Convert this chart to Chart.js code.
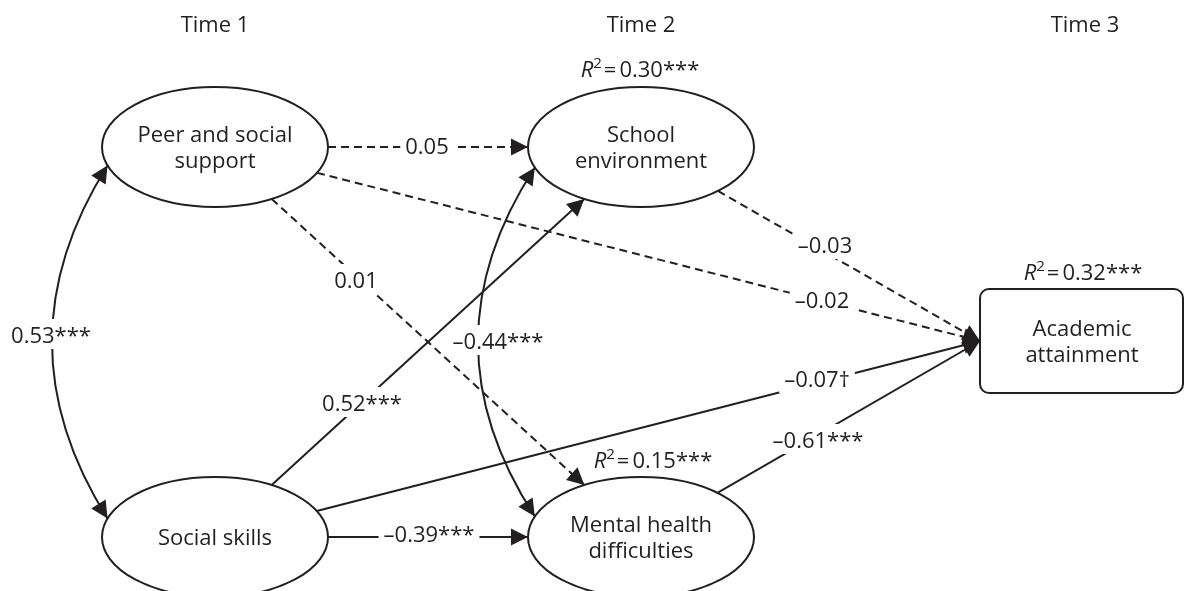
<!DOCTYPE html>
<html>
<head>
<meta charset="utf-8">
<script src="https://cdn.jsdelivr.net/npm/chart.js@4.4.0/dist/chart.umd.min.js"></script>
<style>
  html, body { margin: 0; padding: 0; background: #fff; }
  #wrap { width: 1185px; height: 591px; position: relative; }
</style>
</head>
<body>
<div id="wrap"><canvas id="pathChart"></canvas></div>
<script>
// waves and constructs
const waves = ['Time 1', 'Time 2', 'Time 3'];
const constructs = ['Peer and social support', 'Social skills', 'School environment', 'Mental health difficulties', 'Academic attainment'];

// directed paths (indices into constructs) with standardised coefficients
const pathFrom = [0, 0, 0, 1, 1, 1, 2, 3];
const pathTo   = [2, 3, 4, 2, 4, 3, 4, 4];
const pathCoef = [0.05, 0.01, -0.02, 0.52, -0.07, -0.39, -0.03, -0.61];
const pathSig  = ['', '', '', '***', '\u2020', '***', '', '***'];

// covariances (double-headed)
const corrA    = [0, 2];
const corrB    = [1, 3];
const corrCoef = [0.53, -0.44];
const corrSig  = ['***', '***'];

// explained variance
const r2Node  = [2, 3, 4];
const r2Value = [0.30, 0.15, 0.32];
const r2Sig   = ['***', '***', '***'];

// ---- layout (units = canvas px) ----
const waveX = [215, 641, 1085];
const nodeX = [215, 215, 641, 641, 1082];
const nodeY = [147, 537, 147, 537, 341];
const ellRx = 113, ellRy = 60;
const box = { left: 980, right: 1183, top: 289, bottom: 393, radius: 9 };
const pathLabelAt = [[427, 154], [356, 288], [822, 308], [362, 411], [817, 387], [429, 542], [825, 253], [818, 448]];
const corrAngles = [[162, 198], [160, 200]];
const corrBulgeX = [52, 478];
const corrLabelAt = [[51, 343], [498, 349]];
const r2At = [[640, 77], [653, 468], [1083, 280]];

const ink = '#231f20';
const FONT = '"Open Sans", "Noto Sans", sans-serif';
const SIZE = 22;

function fmt(v, sig) {
  return (v < 0 ? '\u2013' : '') + Math.abs(v).toFixed(2) + sig;
}

// point on a node's outline facing (tx, ty)
function rim(i, tx, ty) {
  if (i === 4) return [box.left, nodeY[4]];
  const dx = tx - nodeX[i], dy = ty - nodeY[i];
  const t = 1 / Math.hypot(dx / ellRx, dy / ellRy);
  return [nodeX[i] + dx * t, nodeY[i] + dy * t];
}

const pathSets = pathFrom.map((s, k) => {
  const d = pathTo[k];
  const aim = d === 4 ? [box.left, nodeY[4]] : [nodeX[d], nodeY[d]];
  const a = rim(s, aim[0], aim[1]);
  const b = rim(d, nodeX[s], nodeY[s]);
  return {
    label: constructs[s] + ' \u2192 ' + constructs[d],
    data: [{ x: a[0], y: a[1] }, { x: b[0], y: b[1] }],
    showLine: true,
    borderColor: ink,
    borderWidth: 2,
    borderDash: pathSig[k] ? [] : [8, 5],
    pointRadius: 0,
    fill: false
  };
});

const nodeSet = {
  label: 'constructs',
  data: constructs.map((c, i) => ({ x: nodeX[i], y: nodeY[i] })),
  pointRadius: 0,
  showLine: false
};

function arrowHead(ctx, tx, ty, fx, fy) {
  const a = Math.atan2(ty - fy, tx - fx);
  const L = 17, W = 8.5;
  const c = Math.cos(a), s = Math.sin(a);
  ctx.beginPath();
  ctx.moveTo(tx, ty);
  ctx.lineTo(tx - L * c + W * s, ty - L * s - W * c);
  ctx.lineTo(tx - L * c - W * s, ty - L * s + W * c);
  ctx.closePath();
  ctx.fill();
}

function tag(ctx, text, cx, base) {
  ctx.font = SIZE + 'px ' + FONT;
  const w = ctx.measureText(text).width;
  ctx.fillStyle = '#fff';
  ctx.fillRect(cx - w / 2 - 5, base - 24, w + 10, 30);
  ctx.fillStyle = ink;
  ctx.textAlign = 'center';
  ctx.fillText(text, cx, base);
}

function wrapWords(ctx, text, maxW) {
  const words = text.split(' ');
  const lines = [];
  let cur = '';
  words.forEach(w => {
    const t = cur ? cur + ' ' + w : w;
    if (cur && ctx.measureText(t).width > maxW) { lines.push(cur); cur = w; }
    else cur = t;
  });
  lines.push(cur);
  return lines;
}

const pathDiagram = {
  id: 'pathDiagram',
  afterDatasetsDraw(chart) {
    const ctx = chart.ctx;
    const sx = chart.scales.x, sy = chart.scales.y;
    const nodes = chart.getDatasetMeta(chart.data.datasets.length - 1).data;
    const rx = sx.getPixelForValue(ellRx) - sx.getPixelForValue(0);
    const ry = sy.getPixelForValue(ellRy) - sy.getPixelForValue(0);
    const X = v => sx.getPixelForValue(v), Y = v => sy.getPixelForValue(v);

    ctx.save();
    ctx.strokeStyle = ink;
    ctx.fillStyle = ink;
    ctx.lineWidth = 2;
    ctx.textBaseline = 'alphabetic';

    // covariance arcs
    corrA.forEach((p, k) => {
      const q = corrB[k];
      const a0 = corrAngles[k][0] * Math.PI / 180, a1 = corrAngles[k][1] * Math.PI / 180;
      const s = [nodes[p].x + rx * Math.cos(a0), nodes[p].y + ry * Math.sin(a0)];
      const e = [nodes[q].x + rx * Math.cos(a1), nodes[q].y + ry * Math.sin(a1)];
      const cx = 2 * X(corrBulgeX[k]) - (s[0] + e[0]) / 2;
      const cy = (s[1] + e[1]) / 2;
      ctx.beginPath();
      ctx.moveTo(s[0], s[1]);
      ctx.quadraticCurveTo(cx, cy, e[0], e[1]);
      ctx.stroke();
      arrowHead(ctx, s[0], s[1], cx, cy);
      arrowHead(ctx, e[0], e[1], cx, cy);
    });

    // construct outlines
    nodes.forEach((pt, i) => {
      ctx.beginPath();
      if (i === 4) {
        ctx.roundRect(X(box.left), Y(box.top), X(box.right) - X(box.left), Y(box.bottom) - Y(box.top), box.radius);
      } else {
        ctx.ellipse(pt.x, pt.y, rx, ry, 0, 0, Math.PI * 2);
      }
      ctx.stroke();
    });

    // arrowheads on directed paths
    pathSets.forEach(ds => {
      const m = chart.getDatasetMeta(chart.data.datasets.indexOf(ds)).data;
      arrowHead(ctx, m[1].x, m[1].y, m[0].x, m[0].y);
    });

    // coefficients
    pathCoef.forEach((v, k) => tag(ctx, fmt(v, pathSig[k]), X(pathLabelAt[k][0]), Y(pathLabelAt[k][1])));
    corrCoef.forEach((v, k) => tag(ctx, fmt(v, corrSig[k]), X(corrLabelAt[k][0]), Y(corrLabelAt[k][1])));

    // construct names
    ctx.font = SIZE + 'px ' + FONT;
    ctx.fillStyle = ink;
    ctx.textAlign = 'center';
    nodes.forEach((pt, i) => {
      const lines = wrapWords(ctx, constructs[i], 165);
      if (lines.length === 1) ctx.fillText(lines[0], pt.x, pt.y + 8);
      else lines.forEach((l, j) => ctx.fillText(l, pt.x, pt.y - 5 + j * 26));
    });

    // R² annotations
    r2Value.forEach((v, k) => {
      const rest = v.toFixed(2) + r2Sig[k];
      ctx.font = 'italic ' + SIZE + 'px ' + FONT;
      const wR = ctx.measureText('R').width;
      ctx.font = '15px ' + FONT;
      const w2 = ctx.measureText('2').width;
      ctx.font = SIZE + 'px ' + FONT;
      const wEq = ctx.measureText('=').width;
      const wRest = ctx.measureText(rest).width;
      let x = X(r2At[k][0]) - (wR + w2 + 2 + wEq + 3 + wRest) / 2;
      const b = Y(r2At[k][1]);
      ctx.textAlign = 'left';
      ctx.font = 'italic ' + SIZE + 'px ' + FONT;
      ctx.fillText('R', x, b); x += wR;
      ctx.font = '15px ' + FONT;
      ctx.fillText('2', x, b - 9); x += w2 + 2;
      ctx.font = SIZE + 'px ' + FONT;
      ctx.fillText('=', x, b); x += wEq + 3;
      ctx.fillText(rest, x, b);
    });

    // wave headings
    ctx.textAlign = 'center';
    ctx.font = SIZE + 'px ' + FONT;
    waves.forEach((w, i) => ctx.fillText(w, X(waveX[i]), Y(32)));

    ctx.restore();
  }
};

function draw() {
  new Chart(document.getElementById('pathChart'), {
    type: 'scatter',
    data: { datasets: [...pathSets, nodeSet] },
    options: {
      responsive: true,
      maintainAspectRatio: false,
      animation: false,
      layout: { padding: 0 },
      plugins: { legend: { display: false }, tooltip: { enabled: false } },
      scales: {
        x: { type: 'linear', min: 0, max: 1185, display: false },
        y: { type: 'linear', min: 0, max: 591, reverse: true, display: false }
      }
    },
    plugins: [pathDiagram]
  });
}

if (document.fonts && document.fonts.load) {
  Promise.all([
    document.fonts.load(SIZE + 'px "Open Sans"'),
    document.fonts.load('italic ' + SIZE + 'px "Open Sans"')
  ]).then(draw, draw);
} else {
  draw();
}
</script>
</body>
</html>
